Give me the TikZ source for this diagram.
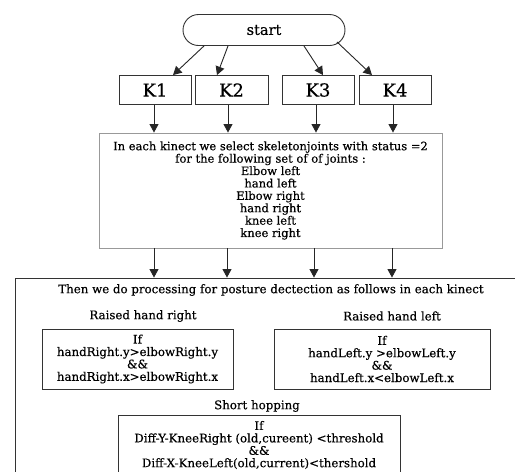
\documentclass[tikz,border=0pt]{standalone}
\usepackage{fontspec}
\setmainfont{DejaVu Serif}
\newfontfamily\diagfont[FakeBold=0.4]{DejaVu Serif}
\usetikzlibrary{arrows.meta}
\tikzset{
  every node/.style={font=\diagfont\fontsize{11.8}{12.4}\selectfont, text=black},
  boxline/.style={draw=black!80, line width=0.9pt},
  kbox/.style={boxline, minimum width=72pt, minimum height=29pt, inner sep=0pt, font=\diagfont\fontsize{18}{20}\selectfont},
  termbox/.style={boxline, rounded corners=15.5pt, minimum width=162pt, minimum height=31pt, inner sep=0pt, font=\diagfont\fontsize{14.5}{16}\selectfont},
  condbox/.style={boxline, align=center, inner sep=0pt},
  flow/.style={draw=black!85, line width=0.9pt, -{Triangle[length=8.5pt,width=9pt]}},
}
\begin{document}
\begin{tikzpicture}[x=1pt,y=-1pt]
\useasboundingbox (0,0) rectangle (515,472);
\fill[white] (0,0) rectangle (515,472);

\node[termbox] (start) at (264,30) {start};
\node[kbox] (K1) at (155,90) {K1};
\node[kbox, minimum width=73pt] (K2) at (231.5,90) {K2};
\node[kbox] (K3) at (318,90) {K3};
\node[kbox] (K4) at (395,90) {K4};

\draw[flow] ([xshift=-60pt]start.south) -- ([xshift=18pt]K1.north);
\draw[flow] ([xshift=-36pt]start.south) -- ([xshift=-14.5pt]K2.north);
\draw[flow] ([xshift=40pt]start.south) -- ([xshift=5pt]K3.north);
\draw[flow] ([xshift=73pt,yshift=4pt]start.south) -- ([xshift=-23pt]K4.north);

\node[condbox, draw=black!40, minimum width=343pt, minimum height=115pt,
      font=\diagfont\fontsize{11.5}{12.4}\selectfont] (joints) at (270.5,190.5)
  {In each kinect we select skeletonjoints with status =2\\
   for the following set of of joints :\\
   Elbow left\\ hand left\\ Elbow right\\ hand right\\ knee left\\ knee right};

\coordinate (a1) at ([xshift=-1pt]K1.south);
\coordinate (a2) at ([xshift=-3.5pt]K2.south);
\coordinate (a3) at ([xshift=-2pt]K3.south);
\coordinate (a4) at ([xshift=-2pt]K4.south);
\coordinate (b1) at ([xshift=-1pt]K1.south);
\coordinate (b2) at ([xshift=-4.5pt]K2.south);
\coordinate (b3) at ([xshift=-4pt]K3.south);
\coordinate (b4) at ([xshift=-3pt]K4.south);

\draw[flow] (a1) -- (joints.north -| a1);
\draw[flow] (a2) -- (joints.north -| a2);
\draw[flow] (a3) -- (joints.north -| a3);
\draw[flow] (a4) -- (joints.north -| a4);

\node[boxline, minimum width=530pt, minimum height=222pt, inner sep=0pt] (big) at (280,389) {};

\draw[flow] (joints.south -| b1) -- (big.north -| b1);
\draw[flow] (joints.south -| b2) -- (big.north -| b2);
\draw[flow] (joints.south -| b3) -- (big.north -| b3);
\draw[flow] (joints.south -| b4) -- (big.north -| b4);

\node (then) at (271,290) {Then we do processing for posture dectection as follows in each kinect};
\node (rhr) at (143,316) {Raised hand right};
\node (rhl) at (392,316) {Raised hand left};

\node[condbox, minimum width=191pt, minimum height=60pt] (c1) at (137.5,359)
  {If\\ handRight.y>elbowRight.y\\ \&\&\\ handRight.x>elbowRight.x};
\node[condbox, minimum width=216pt, minimum height=60pt] (c2) at (382,359)
  {If\\ handLeft.y >elbowLeft.y\\ \&\&\\ handLeft.x<elbowLeft.x};

\node (sh) at (257,406) {Short hopping};
\node[condbox, minimum width=282pt, minimum height=60pt] (c3) at (259,445)
  {If\\ Diff-Y-KneeRight (old,cureent) <threshold\\ \&\&\\ Diff-X-KneeLeft(old,current)<thershold};
\end{tikzpicture}
\end{document}
